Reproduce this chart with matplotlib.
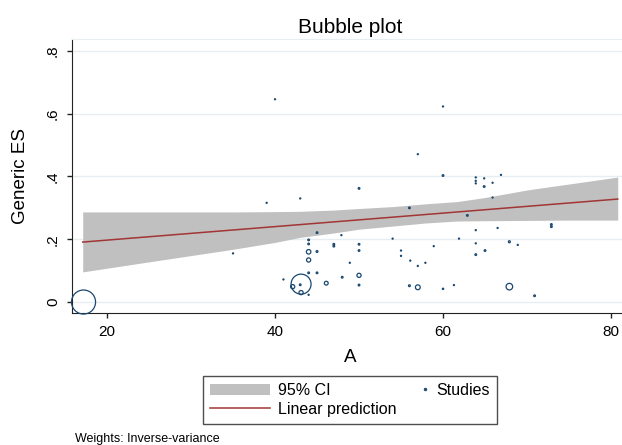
import matplotlib
matplotlib.use('Agg')
import matplotlib.pyplot as plt
from matplotlib.lines import Line2D
from matplotlib.patches import Patch
from matplotlib.legend_handler import HandlerLine2D

plt.rcParams['font.family'] = ['Liberation Sans', 'DejaVu Sans']

# studies: A, effect size, weight (inverse-variance, relative)
study_a = [17.2, 43.1, 67.9, 57.0, 44.0, 44.0, 42.1, 43.1, 46.1, 50.0,
           45.0, 44.0, 44.0, 45.0, 47.0, 47.0, 50.0, 50.0, 56.0, 50.0,
           44.0, 45.0, 43.0, 67.9, 65.0, 63.9, 72.9, 72.9, 60.0, 64.9,
           62.9, 56.0, 50.0, 48.0, 70.9,
           40.0, 60.0, 57.0, 39.0, 43.0, 35.0, 41.0, 44.0, 47.9, 54.0,
           61.9, 63.9, 66.5, 65.9, 63.9, 63.9, 63.9, 64.9, 65.9, 66.9,
           48.9, 55.0, 55.0, 56.1, 57.0, 57.9, 58.9, 63.9, 68.9, 60.0,
           61.3]
study_es = [0.000, 0.057, 0.049, 0.047, 0.160, 0.134, 0.049, 0.030, 0.060, 0.085,
            0.221, 0.198, 0.185, 0.161, 0.184, 0.178, 0.184, 0.164, 0.052, 0.054,
            0.093, 0.093, 0.055, 0.192, 0.164, 0.151, 0.247, 0.240, 0.403, 0.368,
            0.276, 0.300, 0.362, 0.079, 0.020,
            0.646, 0.623, 0.471, 0.316, 0.330, 0.155, 0.072, 0.023, 0.213, 0.202,
            0.202, 0.229, 0.236, 0.333, 0.397, 0.386, 0.378, 0.394, 0.380, 0.405,
            0.125, 0.164, 0.147, 0.132, 0.115, 0.125, 0.178, 0.187, 0.182, 0.042,
            0.054]
study_w = [100, 69, 7.5, 4, 3.5, 3, 3, 3, 2.5, 3,
           0.5, 0.5, 0.5, 0.6, 0.5, 0.5, 0.5, 0.5, 0.6, 0.5,
           0.5, 0.5, 0.5, 0.7, 0.5, 0.5, 0.5, 0.5, 0.5, 0.5,
           0.5, 0.5, 0.5, 0.5, 0.5,
           0.2, 0.2, 0.2, 0.2, 0.2, 0.2, 0.2, 0.2, 0.2, 0.2,
           0.2, 0.2, 0.2, 0.2, 0.2, 0.2, 0.2, 0.2, 0.2, 0.2,
           0.2, 0.2, 0.2, 0.2, 0.2, 0.2, 0.2, 0.2, 0.2, 0.3,
           0.2]

# fitted line and 95% CI band
fit_a = [17.1, 80.8]
fit_es = [0.191, 0.328]
band_a = [17.1, 25, 30, 35, 40, 43, 47, 50, 54, 58, 61.7, 65, 70, 75, 80.8]
band_lo = [0.096, 0.128, 0.148, 0.168, 0.190, 0.206, 0.220, 0.232, 0.242, 0.252,
           0.258, 0.259, 0.260, 0.261, 0.261]
band_hi = [0.287, 0.287, 0.287, 0.287, 0.288, 0.289, 0.293, 0.298, 0.304, 0.313,
           0.320, 0.333, 0.357, 0.376, 0.398]

navy = '#1a476f'
grid_col = '#e6eef1'

fig = plt.figure(figsize=(6.22, 4.45), dpi=100)
ax = fig.add_axes([0.1158, 0.2973, 0.8842, 0.6151])

ax.fill_between(band_a, band_lo, band_hi, color='#c0c0c0', lw=0, zorder=2)
ax.plot(fit_a, fit_es, color='#a23535', lw=1.1, zorder=3)
ax.scatter(study_a, study_es, s=[3 * w for w in study_w], facecolors='none',
           edgecolors=navy, linewidths=0.9, zorder=4, clip_on=False)

ax.set_xlim(15.83, 81.31)
ax.set_ylim(-0.034, 0.838)
ax.set_xticks([20, 40, 60, 80])
ax.set_yticks([0, 0.2, 0.4, 0.6, 0.8])
ax.set_yticklabels(['0', '.2', '.4', '.6', '.8'], rotation=90, va='center')
ax.grid(axis='y', color=grid_col, lw=1)
ax.set_axisbelow(True)

ax.spines['right'].set_visible(False)
ax.spines['top'].set_color(grid_col)
ax.spines['left'].set_color('#222222')
ax.spines['bottom'].set_color('#222222')
ax.tick_params(length=3.6, width=1, color='#222222', labelsize=11, pad=5)

ax.set_xlabel('A', fontsize=13.5, va='center')
ax.xaxis.set_label_coords(0.505, -0.162)
ax.set_ylabel('Generic ES', fontsize=13.5, va='center', ha='center')
ax.yaxis.set_label_coords(-0.093, 0.5)

fig.text(0.5627, 0.9258, 'Bubble plot', fontsize=15, ha='center', va='baseline')
fig.text(0.1206, 0.0067, 'Weights: Inverse-variance', fontsize=9, ha='left', va='baseline')


class RightMarker(HandlerLine2D):
    def get_xdata(self, legend, xdescent, ydescent, width, height, fontsize):
        x = [width - 0.2 * fontsize]
        return x, x


h_ci = Patch(facecolor='#c0c0c0', edgecolor='none')
h_fit = Line2D([], [], color='#a23535', lw=1.1)
h_st = Line2D([], [], ls='none', marker='o', ms=2, mfc=navy, mec=navy, mew=0.5)
leg = fig.legend([h_ci, h_fit, h_st], ['95% CI', 'Linear prediction', 'Studies'],
                 ncol=2, loc='center', bbox_to_anchor=(0.5627, 0.101),
                 fontsize=11.5, frameon=True, fancybox=False, edgecolor='#222222',
                 handlelength=3.75, handletextpad=0.5, columnspacing=-1.75,
                 labelspacing=0.25, borderpad=0.45, borderaxespad=0,
                 handler_map={h_st: RightMarker()})
leg.get_frame().set_linewidth(1)

fig.savefig('out.png', dpi=100)
